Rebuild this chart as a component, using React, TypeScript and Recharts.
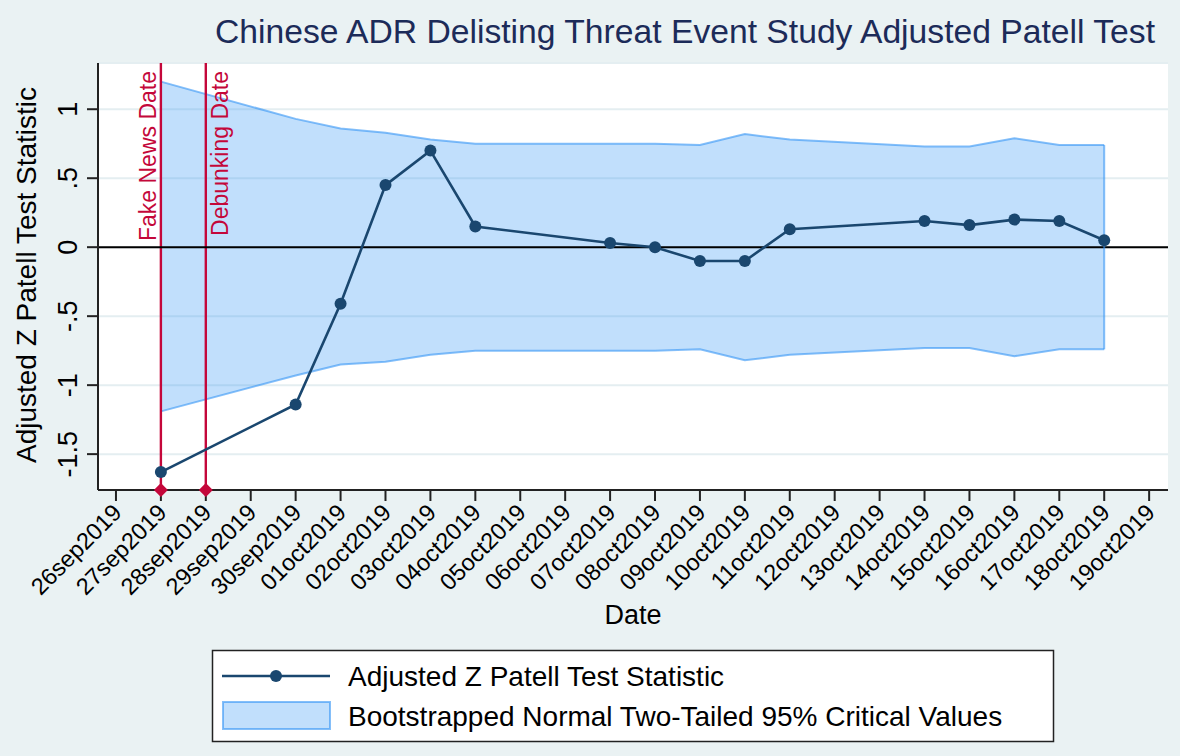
import React from "react";
import {
  Area,
  CartesianGrid,
  ComposedChart,
  Line,
  ReferenceDot,
  ReferenceLine,
  XAxis,
  YAxis,
} from "recharts";

// x axis: one tick per calendar day, day 0 = 26sep2019
const tickDays = [0, 1, 2, 3, 4, 5, 6, 7, 8, 9, 10, 11, 12, 13, 14, 15, 16, 17, 18, 19, 20, 21, 22, 23];
const tickLabels = [
  "26sep2019", "27sep2019", "28sep2019", "29sep2019", "30sep2019", "01oct2019",
  "02oct2019", "03oct2019", "04oct2019", "05oct2019", "06oct2019", "07oct2019",
  "08oct2019", "09oct2019", "10oct2019", "11oct2019", "12oct2019", "13oct2019",
  "14oct2019", "15oct2019", "16oct2019", "17oct2019", "18oct2019", "19oct2019",
];

// trading days with an observation
const obsDays = [1, 4, 5, 6, 7, 8, 11, 12, 13, 14, 15, 18, 19, 20, 21, 22];
const zStat = [-1.63, -1.14, -0.41, 0.45, 0.7, 0.15, 0.03, 0.0, -0.1, -0.1, 0.13, 0.19, 0.16, 0.2, 0.19, 0.05];
const upperCV = [1.2, 0.93, 0.86, 0.83, 0.78, 0.75, 0.75, 0.75, 0.74, 0.82, 0.78, 0.73, 0.73, 0.79, 0.74, 0.74];
const lowerCV = [-1.19, -0.93, -0.85, -0.83, -0.78, -0.75, -0.75, -0.75, -0.74, -0.82, -0.78, -0.73, -0.73, -0.79, -0.74, -0.74];

const yTicks = [-1.5, -1, -0.5, 0, 0.5, 1];
const yTickLabels = ["-1.5", "-1", "-.5", "0", ".5", "1"];

const eventDays = [1, 2];
const eventLabels = ["Fake News Date", "Debunking Date"];

const X_MIN = -0.4;
const X_MAX = 23.42;
const Y_MIN = -1.76;
const Y_MAX = 1.335;

const FONT = "'Liberation Sans', Arial, Helvetica, sans-serif";
const BG = "#EAF2F3";
const NAVY = "#1A476F";
const BAND = "#3394F5";
const RED = "#C4073A";

const data = obsDays.map((d, i) => ({
  day: d,
  z: zStat[i],
  band: [lowerCV[i], upperCV[i]],
}));

const last = obsDays.length - 1;

function XTick(props: any) {
  const { x, y, payload } = props;
  const label = tickLabels[tickDays.indexOf(payload.value)];
  const ax = x + 7;
  const ay = y + 11;
  return (
    <text
      x={ax}
      y={ay}
      transform={`rotate(-45 ${ax} ${ay})`}
      textAnchor="end"
      fontSize={23.5}
      fontFamily={FONT}
      fill="#000"
    >
      {label}
    </text>
  );
}

function YTick(props: any) {
  const { x, y, payload } = props;
  const label = yTickLabels[yTicks.indexOf(payload.value)];
  const bx = x - 8;
  return (
    <text
      x={bx}
      y={y}
      transform={`rotate(-90 ${bx} ${y})`}
      textAnchor="middle"
      fontSize={27}
      fontFamily={FONT}
      fill="#000"
    >
      {label}
    </text>
  );
}

function eventLabel(text: string, dx: number) {
  return (props: any) => {
    const vb = props.viewBox || {};
    const tx = vb.x + dx;
    const ty = vb.y + 8;
    return (
      <text
        x={tx}
        y={ty}
        transform={`rotate(-90 ${tx} ${ty})`}
        textAnchor="end"
        fontSize={23}
        fontFamily={FONT}
        fill={RED}
      >
        {text}
      </text>
    );
  };
}

function Diamond(props: any) {
  const { cx, cy } = props;
  const s = 7;
  return <path d={`M${cx},${cy - s}L${cx + s},${cy}L${cx},${cy + s}L${cx - s},${cy}Z`} fill={RED} />;
}

export default function App() {
  return (
    <div
      style={{
        position: "absolute",
        left: 0,
        top: 0,
        width: 1180,
        height: 756,
        background: BG,
        fontFamily: FONT,
      }}
    >
      <ComposedChart
        width={1180}
        height={756}
        data={data}
        margin={{ top: 63, right: 12, bottom: 0, left: 0 }}
      >
        <CartesianGrid
          horizontal
          vertical={false}
          fill="#ffffff"
          stroke="#E4EEF1"
          strokeWidth={2}
        />
        <XAxis
          dataKey="day"
          type="number"
          domain={[X_MIN, X_MAX]}
          ticks={tickDays}
          interval={0}
          allowDataOverflow
          height={266}
          tickSize={11}
          tick={<XTick />}
          stroke="#222"
          strokeWidth={2}
          tickLine={{ stroke: "#222", strokeWidth: 2 }}
        />
        <YAxis
          type="number"
          domain={[Y_MIN, Y_MAX]}
          ticks={yTicks}
          interval={0}
          allowDataOverflow
          width={98}
          tickSize={11}
          tick={<YTick />}
          stroke="#222"
          strokeWidth={2}
          tickLine={{ stroke: "#222", strokeWidth: 2 }}
        />
        <ReferenceLine
          x={eventDays[0]}
          stroke={RED}
          strokeWidth={2.4}
          label={eventLabel(eventLabels[0], -5)}
        />
        <ReferenceLine
          x={eventDays[1]}
          stroke={RED}
          strokeWidth={2.4}
          label={eventLabel(eventLabels[1], 22)}
        />
        <ReferenceLine y={0} stroke="#000" strokeWidth={2} />
        <Line
          dataKey="z"
          stroke={NAVY}
          strokeWidth={2.6}
          dot={{ r: 6, fill: NAVY, stroke: NAVY, strokeWidth: 0 }}
          isAnimationActive={false}
        />
        <Area
          dataKey="band"
          type="linear"
          fill={BAND}
          fillOpacity={0.3}
          stroke={BAND}
          strokeOpacity={0.6}
          strokeWidth={2}
          isAnimationActive={false}
        />
        <ReferenceLine
          segment={[
            { x: obsDays[last], y: lowerCV[last] },
            { x: obsDays[last], y: upperCV[last] },
          ]}
          stroke={BAND}
          strokeOpacity={0.6}
          strokeWidth={2}
        />
        {eventDays.map((d) => (
          <ReferenceDot key={d} x={d} y={Y_MIN} r={7} shape={<Diamond />} />
        ))}
      </ComposedChart>

      <svg
        width={1180}
        height={756}
        style={{ position: "absolute", left: 0, top: 0, pointerEvents: "none" }}
      >
        <text
          x={1155}
          y={43}
          textAnchor="end"
          fontSize={33.5}
          textLength={940}
          lengthAdjust="spacingAndGlyphs"
          fontFamily={FONT}
          fill="#1C2B59"
        >
          Chinese ADR Delisting Threat Event Study Adjusted Patell Test
        </text>
        <text
          x={36}
          y={275}
          transform="rotate(-90 36 275)"
          textAnchor="middle"
          fontSize={28}
          fontFamily={FONT}
          fill="#000"
        >
          Adjusted Z Patell Test Statistic
        </text>
        <text x={633} y={624} textAnchor="middle" fontSize={27} fontFamily={FONT} fill="#000">
          Date
        </text>

        <rect x={212.5} y={650.5} width={841} height={91} fill="#fff" stroke="#222" strokeWidth={1.5} />
        <line x1={222} y1={676} x2={330} y2={676} stroke={NAVY} strokeWidth={2.6} />
        <circle cx={276} cy={676} r={6} fill={NAVY} />
        <rect x={223} y={702} width={107} height={27} fill={BAND} fillOpacity={0.3} stroke={BAND} strokeOpacity={0.6} strokeWidth={2} />
        <text x={348} y={686} fontSize={28} fontFamily={FONT} fill="#000">
          Adjusted Z Patell Test Statistic
        </text>
        <text x={348} y={726} fontSize={28} fontFamily={FONT} fill="#000">
          Bootstrapped Normal Two-Tailed 95% Critical Values
        </text>
      </svg>
    </div>
  );
}
